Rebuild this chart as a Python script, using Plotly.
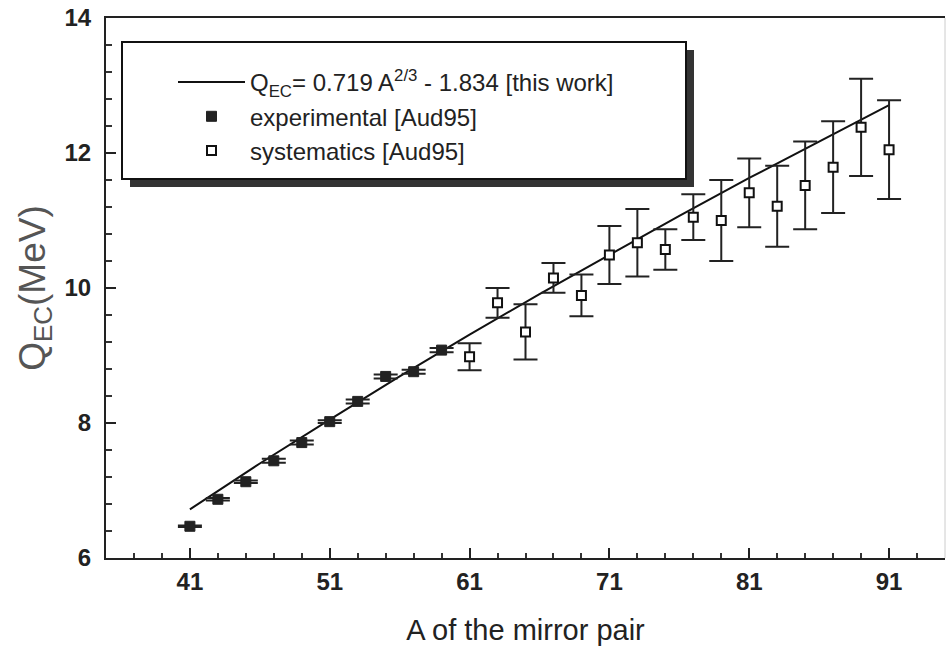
import plotly.graph_objects as go

# ---- data ----
fit_A = [41, 46, 51, 56, 61, 66, 71, 76, 81, 86, 91]
fit_Q = [6.72, 7.40, 8.05, 8.69, 9.31, 9.91, 10.49, 11.07, 11.63, 12.17, 12.71]

exp_A = [41, 43, 45, 47, 49, 51, 53, 55, 57, 59]
exp_Q = [6.47, 6.87, 7.13, 7.44, 7.71, 8.02, 8.32, 8.69, 8.76, 9.08]
exp_err = [0.01, 0.02, 0.02, 0.03, 0.03, 0.02, 0.03, 0.03, 0.03, 0.03]

sys_A = [61, 63, 65, 67, 69, 71, 73, 75, 77, 79, 81, 83, 85, 87, 89, 91]
sys_Q = [8.98, 9.78, 9.35, 10.15, 9.89, 10.49, 10.67, 10.57, 11.05, 11.00,
         11.41, 11.21, 11.52, 11.79, 12.38, 12.05]
sys_err = [0.20, 0.22, 0.41, 0.22, 0.31, 0.43, 0.50, 0.30, 0.34, 0.60,
           0.51, 0.60, 0.65, 0.68, 0.72, 0.73]

x_ticks = [41, 51, 61, 71, 81, 91]
y_ticks = [6, 8, 10, 12, 14]

FONT = "Liberation Sans, Arial, Helvetica, sans-serif"

fig = go.Figure()

fig.add_trace(go.Scatter(
    x=fit_A, y=fit_Q, mode="lines",
    line=dict(color="#111", width=2),
    name="Q<sub>EC</sub>= 0.719 A<sup>2/3</sup> - 1.834 [this work]",
    legendgroup="a",
))
fig.add_trace(go.Scatter(
    x=exp_A, y=exp_Q, mode="markers",
    marker=dict(symbol="square", size=10, color="#222",
                line=dict(color="#222", width=1)),
    error_y=dict(type="data", array=exp_err, color="#222", thickness=2, width=12),
    name="experimental [Aud95]",
    legendgroup="b",
))
fig.add_trace(go.Scatter(
    x=sys_A, y=sys_Q, mode="markers",
    marker=dict(symbol="square", size=9, color="white",
                line=dict(color="#111", width=2)),
    error_y=dict(type="data", array=sys_err, color="#222", thickness=2, width=12),
    name="systematics [Aud95]",
    legendgroup="c",
))

L, R, T, B = 106, 2, 18, 89
W, H = 947, 647
pw, ph = W - L - R, H - T - B


def px(xp):
    return (xp - L) / pw


def py(yp):
    return (H - B - yp) / ph


shapes = [
    # legend shadow
    dict(type="rect", xref="paper", yref="paper",
         x0=px(130), x1=px(694), y0=py(187), y1=py(50),
         fillcolor="#333", line=dict(width=0), layer="above"),
    # legend box
    dict(type="rect", xref="paper", yref="paper",
         x0=px(122), x1=px(686), y0=py(179), y1=py(42),
         fillcolor="white", line=dict(color="#111", width=2), layer="above"),
    # faint right border
    dict(type="line", xref="paper", yref="paper", x0=1, x1=1, y0=0, y1=1,
         line=dict(color="#ccc", width=1)),
]

fig.update_layout(
    width=W, height=H,
    margin=dict(l=L, r=R, t=T, b=B),
    paper_bgcolor="white", plot_bgcolor="white",
    font=dict(family=FONT, color="#222"),
    shapes=shapes,
    showlegend=True,
    legend=dict(
        x=px(173), y=py(60), xanchor="left", yanchor="top",
        bgcolor="rgba(0,0,0,0)", borderwidth=0,
        font=dict(family=FONT, size=24, color="#222"),
        tracegroupgap=0,
        itemwidth=67,
    ),
    xaxis=dict(
        range=[35, 95], tickvals=x_ticks, ticktext=[str(v) for v in x_ticks],
        ticks="inside", ticklen=10, tickwidth=2, tickcolor="#222",
        showline=True, linecolor="#222", linewidth=2, mirror=True,
        showgrid=False, zeroline=False,
        ticklabelstandoff=1,
        tickfont=dict(family=FONT, size=24, color="#222", weight="bold"),
        minor=dict(dtick=2, tick0=35, ticks="inside", ticklen=5,
                   tickwidth=1.5, tickcolor="#333", showgrid=False),
        title=dict(text="A of the mirror pair",
                   font=dict(family=FONT, size=29, color="#222"), standoff=26),
    ),
    yaxis=dict(
        range=[6, 14], tickvals=y_ticks, ticktext=[str(v) for v in y_ticks],
        ticks="inside", ticklen=10, tickwidth=2, tickcolor="#222",
        showline=True, linecolor="#222", linewidth=2,
        showgrid=False, zeroline=False,
        ticklabelstandoff=8,
        tickfont=dict(family=FONT, size=24, color="#222", weight="bold"),
        minor=dict(dtick=0.4, tick0=6, ticks="inside", ticklen=6,
                   tickwidth=1.5, tickcolor="#333", showgrid=False),
        title=dict(text="Q<sub>EC</sub>(MeV)",
                   font=dict(family=FONT, size=37, color="#555"), standoff=8),
    ),
)

fig.write_html("out.html")
